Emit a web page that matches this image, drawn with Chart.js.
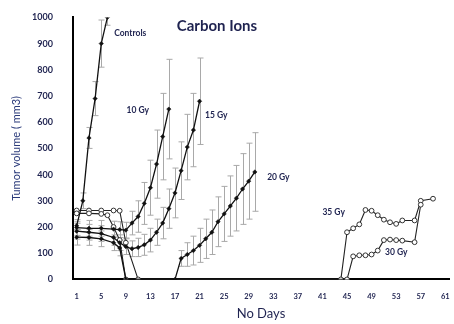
<!DOCTYPE html>
<html><head><meta charset="utf-8">
<script src="https://cdn.jsdelivr.net/npm/chart.js@4"></script>
<style>html,body{margin:0;padding:0;background:#fff}</style>
</head><body>
<canvas id="c" width="454" height="324"></canvas>
<script>
// ---- data ----
const xTickDays = [1,5,9,13,17,21,25,29,33,37,41,45,49,53,57,61];
const yTickValues = [0,100,200,300,400,500,600,700,800,900,1000];

const controlsDays = [1,2,3,4,5,6];
const controlsVals = [205,300,540,690,900,1000];
const controlsErr  = [15,30,40,65,90,30];

const gy10Days = [1,3,5,7,8,9,10,11,12,13,14,15,16];
const gy10Vals = [198,195,195,192,190,188,215,240,290,350,440,545,650];
const gy10Err  = [30,30,30,30,30,30,45,60,80,105,130,165,190];

const gy15Days = [1,3,5,7,8,9,10,11,12,13,14,15,16,17,18,19,20,21];
const gy15Vals = [184,180,175,160,140,125,117,122,132,150,180,215,270,330,415,505,570,680];
const gy15Err  = [30,30,30,30,30,30,30,35,40,45,50,60,75,95,110,125,140,165];

const gy20Days = [1,3,5,7,8,9,17,18,19,20,21,22,23,24,25,26,27,28,29,30];
const gy20Vals = [161,160,155,140,120,0,0,80,95,110,130,155,180,220,250,280,310,345,375,410];
const gy20Err  = [30,30,30,30,30,0,0,30,45,55,65,75,85,95,105,115,125,135,145,150];

const gy30Days = [1,3,5,6,7,8,9,45,46,47,48,49,50,51,52,53,54,56,57];
const gy30Vals = [252,252,250,245,200,150,0,0,88,92,92,95,110,150,152,150,148,142,285];

const gy35Days = [1,3,5,7,8,9,11,44,45,46,47,48,49,50,51,52,53,54,56,57,59];
const gy35Vals = [263,263,263,263,262,140,0,0,180,195,210,265,262,245,228,218,212,225,225,300,308];

const labelTexts  = ['Controls','10 Gy','15 Gy','20 Gy','35 Gy','30 Gy'];
const labelDays   = [7.1, 9.1, 21.9, 32, 41, 51.2];
const labelValues = [939, 645, 626, 390, 257, 104];
const chartTitle = 'Carbon Ions';
const titleDay = 17.3, titleValue = 968;

// ---- build ----
const pts = (d, v) => d.map((x, i) => ({x: x, y: v[i]}));
const textColor = '#1f2350';

const filled = (label, d, v, e) => ({
  label, data: pts(d, v), err: e,
  borderColor: '#111', borderWidth: 1.3, tension: 0,
  pointStyle: 'rectRot', pointRadius: 2.2, pointBackgroundColor: '#111', pointBorderColor: '#111', pointBorderWidth: 0.5
});
const open = (label, d, v) => ({
  label, data: pts(d, v),
  borderColor: '#222', borderWidth: 1.1, tension: 0,
  pointStyle: 'circle', pointRadius: 2.4, pointBackgroundColor: '#fff', pointBorderColor: '#333', pointBorderWidth: 1
});

const errorBars = {
  id: 'errorBars',
  beforeDatasetsDraw(chart) {
    const {ctx, chartArea, scales: {x, y}} = chart;
    ctx.save();
    ctx.beginPath();
    ctx.rect(chartArea.left, chartArea.top, chartArea.right - chartArea.left, chartArea.bottom - chartArea.top);
    ctx.clip();
    ctx.strokeStyle = '#a9a9a9';
    ctx.lineWidth = 1;
    chart.data.datasets.forEach(ds => {
      if (!ds.err) return;
      ds.data.forEach((p, i) => {
        const e = ds.err[i];
        if (!e) return;
        const px = Math.round(x.getPixelForValue(p.x)) + 0.5;
        const y1 = y.getPixelForValue(p.y + e), y2 = y.getPixelForValue(Math.max(p.y - e, 0));
        ctx.beginPath();
        ctx.moveTo(px, y1); ctx.lineTo(px, y2);
        ctx.moveTo(px - 3, y1); ctx.lineTo(px + 3, y1);
        ctx.moveTo(px - 3, y2); ctx.lineTo(px + 3, y2);
        ctx.stroke();
      });
    });
    ctx.restore();
  }
};

const textLabels = {
  id: 'textLabels',
  afterDatasetsDraw(chart) {
    const {ctx, scales: {x, y}} = chart;
    ctx.save();
    ctx.fillStyle = textColor;
    ctx.textBaseline = 'middle';
    ctx.textAlign = 'left';
    ctx.font = 'bold 8.5px Lato';
    labelTexts.forEach((t, i) => {
      ctx.fillText(t, x.getPixelForValue(labelDays[i]), y.getPixelForValue(labelValues[i]));
    });
    ctx.font = 'bold 15px Lato';
    ctx.fillText(chartTitle, x.getPixelForValue(titleDay), y.getPixelForValue(titleValue));
    ctx.restore();
  }
};

new Chart(document.getElementById('c'), {
  type: 'line',
  data: {
    datasets: [
      filled('Controls', controlsDays, controlsVals, controlsErr),
      filled('10 Gy', gy10Days, gy10Vals, gy10Err),
      filled('15 Gy', gy15Days, gy15Vals, gy15Err),
      filled('20 Gy', gy20Days, gy20Vals, gy20Err),
      open('30 Gy', gy30Days, gy30Vals),
      open('35 Gy', gy35Days, gy35Vals)
    ]
  },
  options: {
    responsive: false,
    animation: false,
    devicePixelRatio: 1,
    layout: {padding: {top: 12, right: -5, bottom: 2, left: 10}},
    plugins: {legend: {display: false}, tooltip: {enabled: false}},
    scales: {
      x: {
        type: 'linear', min: 0.4, max: 61.6,
        afterBuildTicks: s => { s.ticks = xTickDays.map(v => ({value: v})); },
        afterFit: s => { s.paddingLeft = 0; s.paddingRight = 0; },
        grid: {display: false},
        border: {color: '#000', width: 2},
        ticks: {color: textColor, font: {family: 'Lato', size: 7.5, weight: 'bold'}, padding: 5, autoSkip: false, maxRotation: 0,
                callback: v => String(v)},
        title: {display: true, text: 'No Days', color: textColor, font: {family: 'Lato', size: 13}, padding: {top: 0, bottom: 0}}
      },
      y: {
        min: 0, max: 1000,
        afterBuildTicks: s => { s.ticks = yTickValues.map(v => ({value: v})); },
        afterFit: s => { s.width = 63; },
        grid: {display: false},
        border: {color: '#000', width: 2},
        ticks: {color: textColor, font: {family: 'Lato', size: 9, weight: 'bold'}, padding: 12, callback: v => String(v)},
        title: {display: true, text: 'Tumor volume ( mm3)', color: '#2a3a7a', font: {family: 'Lato', size: 11}, padding: {top: 0, bottom: 6}}
      }
    }
  },
  plugins: [errorBars, textLabels]
});
</script>
</body></html>
